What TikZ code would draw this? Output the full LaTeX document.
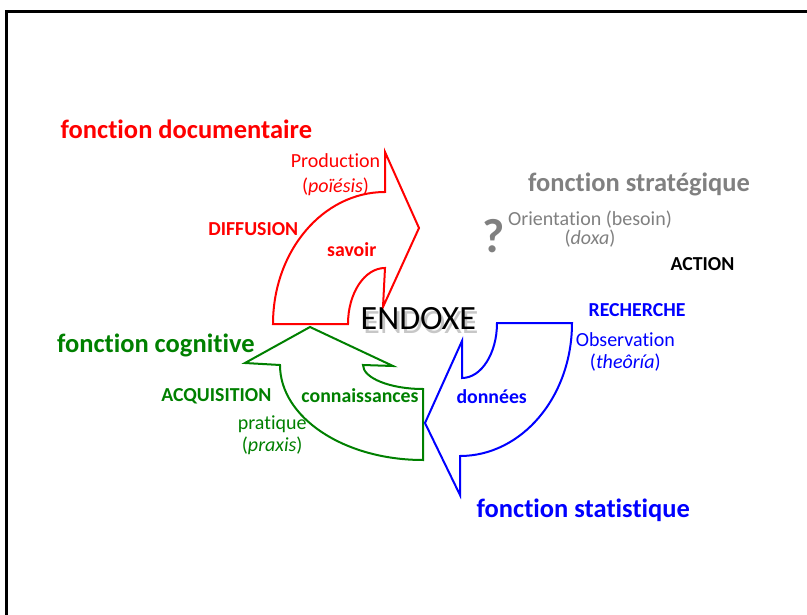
\documentclass[tikz,border=0pt]{standalone}
\usepackage{fontspec}
\setmainfont{Carlito}[Ligatures=NoCommon]
\usetikzlibrary{positioning}

\definecolor{rouge}{RGB}{255,0,0}
\definecolor{vert}{RGB}{0,128,0}
\definecolor{bleu}{RGB}{0,0,255}
\definecolor{gris}{RGB}{128,128,128}

\begin{document}
\begin{tikzpicture}[x=1pt, y=-1pt,
	titre/.style={font=\fontsize{26.5}{30}\selectfont\bfseries, anchor=base, inner sep=0pt},
	etiq/.style={font=\fontsize{19.8}{22}\selectfont\bfseries, anchor=base, inner sep=0pt},
	texte/.style={font=\fontsize{20}{22}\selectfont, anchor=base, inner sep=0pt},
	fleche/.style={line width=2pt, line join=miter}]
	
	\useasboundingbox (0,0) rectangle (807,615);
	\draw[line width=3pt] (6.7,615) -- (6.7,12) -- (807,12);
	
	% fleche documentaire
	\draw[fleche, rouge] (273,324) .. controls (273,251) and (323,192) .. (385,192)
		-- (385,152) -- (419,228) -- (383,307) -- (385,268)
		.. controls (364.6,268) and (348,293) .. (348,324) -- cycle;
	
	% fleche cognitive
	\draw[fleche, vert] (310,327) -- (393,366) -- (363,365)
		.. controls (363,378) and (390,389) .. (423,389) -- (423,460)
		.. controls (344,460) and (280,417.5) .. (280,365) -- (245,363) -- cycle;
	
	% fleche statistique
	\draw[fleche, bleu] (572,323) .. controls (572,396.5) and (522,456) .. (460,456)
		-- (460,495) -- (425,423) -- (462,341) -- (462,378)
		.. controls (481.3,378) and (497,353.4) .. (497,323) -- cycle;
	
	\node[titre, rouge] 	(fdoc) 	at (186.4,139) 		{fonction documentaire};
	\node[etiq, rouge] 		(diff) 	at (253.3,235.5) 	{DIFFUSION};
	\node[etiq, rouge] 		(sav) 	at (351.7,256.5) 	{savoir};
	\node[texte, rouge] 	(prod) 	at (335.5,167.5) 	{Production};
	\node[texte, rouge, yshift=-25pt] (poi) at (prod.base) {(\textit{poïésis})};
	
	\node[titre, vert] 		(fcog) 	at (155.8,352.5) 	{fonction cognitive};
	\node[etiq, vert] 		(acq) 	at (216.3,401.5) 	{ACQUISITION};
	\node[etiq, vert] 		(conn) 	at (360,402) 		{connaissances};
	\node[texte, vert] 		(prat) 	at (272.2,429.5) 	{pratique};
	\node[texte, vert, yshift=-22pt] (prax) at (prat.base) {(\textit{praxis})};
	
	\node[titre, bleu] 		(fstat) at (583.3,517.5) 	{fonction statistique};
	\node[etiq, bleu] 		(rech) 	at (637,316.5) 		{RECHERCHE};
	\node[etiq, bleu] 		(don) 	at (491.7,403.5) 	{données};
	\node[texte, bleu] 		(obs) 	at (625.3,346) 		{Observation};
	\node[texte, bleu, yshift=-22.3pt] (theo) at (obs.base) {(\textit{theôría})};
	
	\node[titre, gris] 		(fstrat) at (639,191.5) 	{fonction stratégique};
	\node[texte, gris] 		(orient) at (590,226) 		{Orientation (besoin)};
	\node[texte, gris, yshift=-19pt] (doxa) at (orient.base) {(\textit{doxa})};
	\node[inner sep=0pt, anchor=base, gris, font=\fontsize{48}{50}\selectfont\bfseries] (quest) at (493.7,253) {?};
	\node[etiq] 			(act) 	at (702.5,270) 		{ACTION};
	
	% ENDOXE avec ombre
	\node[inner sep=0pt, anchor=base, black, opacity=0.22, font=\fontsize{34}{36}\selectfont] (ombre) at (421,333.5) {ENDOXE};
	\node[inner sep=0pt, anchor=base, font=\fontsize{34}{36}\selectfont] (endoxe) at (418.3,330) {ENDOXE};
\end{tikzpicture}
\end{document}
